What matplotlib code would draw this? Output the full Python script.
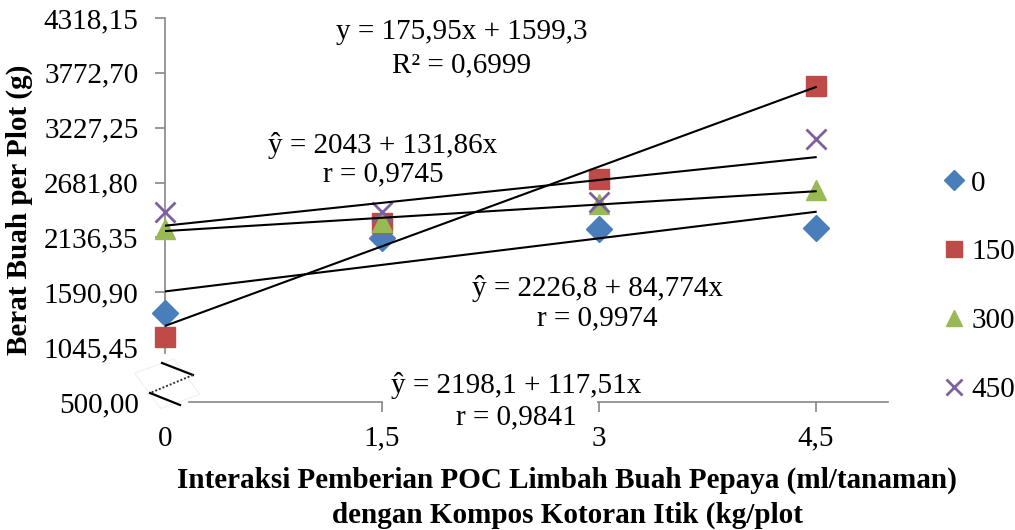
import numpy as np
import matplotlib
matplotlib.use("Agg")
from matplotlib import pyplot as plt
from matplotlib.patches import Polygon, Rectangle
from matplotlib.lines import Line2D

plt.rcParams["font.family"] = ["Liberation Serif", "DejaVu Serif"]

dosis = [0, 1.5, 3, 4.5]
poc_0 = [1384, 2129, 2218, 2228]
poc_150 = [1145, 2278, 2714, 3638]
poc_300 = [2225, 2290, 2470, 2605]
poc_450 = [2387, 2390, 2486, 3112]

series_labels = ["0", "150", "300", "450"]
series_colors = ["#4a7ebb", "#be4b48", "#98b954", "#7d60a0"]
series_markers = ["D", "s", "^", "x"]

# trendline of the 0 ml series, as printed on the chart
slope_0, intercept_0 = 175.95, 1599.3
r2_0 = 0.6999

y_ticks = [500.00, 1045.45, 1590.90, 2136.35, 2681.80, 3227.25, 3772.70, 4318.15]
x_ticks = [0, 1.5, 3, 4.5]

FS = 21


def fmt_id(v, dec):
    return f"{v:.{dec}f}".replace(".", ",")


fig = plt.figure(figsize=(10.15, 5.3), dpi=100)
ax = fig.add_axes([165 / 1015, 1 - 402 / 530, 723 / 1015, 384 / 530])

ax.set_xlim(0, 5)
ax.set_ylim(y_ticks[0], y_ticks[-1])

series = [poc_0, poc_150, poc_300, poc_450]
for vals, lab, col, mk in zip(series, series_labels, series_colors, series_markers):
    if mk == "x":
        ax.plot(dosis, vals, linestyle="none", marker=mk, color=col,
                markersize=15, markeredgewidth=2, label=lab, zorder=3, clip_on=False)
    elif mk == "D":
        ax.plot(dosis, vals, linestyle="none", marker=mk, color=col,
                markersize=13, label=lab, zorder=3, clip_on=False)
    else:
        ax.plot(dosis, vals, linestyle="none", marker=mk, color=col,
                markersize=15, label=lab, zorder=3, clip_on=False)

# linear trendlines
xs = np.array([dosis[0], dosis[-1]])
ax.plot(xs, intercept_0 + slope_0 * xs, color="black", lw=1.5, zorder=4)
for vals in series[1:]:
    b, a = np.polyfit(dosis, vals, 1)
    ax.plot(xs, a + b * xs, color="black", lw=1.5, zorder=4)

# axes styling
spine_col = "#868686"
for side in ["top", "right"]:
    ax.spines[side].set_visible(False)
ax.spines["left"].set_color(spine_col)
ax.spines["bottom"].set_color(spine_col)
ax.spines["left"].set_linewidth(1.2)
ax.spines["bottom"].set_linewidth(1.2)
ax.spines["left"].set_bounds(987, y_ticks[-1])
ax.spines["bottom"].set_bounds(0.166, 5)

ax.set_yticks(y_ticks)
ax.set_yticklabels([fmt_id(v, 2) for v in y_ticks])
ax.set_xticks(x_ticks)
ax.set_xticklabels([fmt_id(v, 1) if v % 1 else str(int(v)) for v in x_ticks])
ax.tick_params(axis="both", colors=spine_col, labelcolor="black",
               labelsize=FS, length=7, width=1.2)
ax.tick_params(axis="y", pad=12)
ax.tick_params(axis="x", pad=10)
ax.yaxis.get_major_ticks()[0].tick1line.set_visible(False)
ax.xaxis.get_major_ticks()[0].tick1line.set_visible(False)

# axis break mark on the y axis
tr = ax.transAxes
ax.add_patch(Polygon([(-0.042, 0.075), (0.012, 0.112), (0.048, 0.02), (-0.006, -0.017)],
                     closed=True, transform=tr, facecolor="white",
                     edgecolor="#f0f0f0", lw=0.8, clip_on=False, zorder=5))
ax.add_line(Line2D([-0.0041, 0.0387], [0.1016, 0.0703], transform=tr,
                   color="black", lw=1.6, clip_on=False, zorder=6))
ax.add_line(Line2D([0.0387, -0.0207], [0.0703, 0.0234], transform=tr,
                   color="#333333", lw=1.4, ls=(0, (1, 1)), clip_on=False, zorder=6))
ax.add_line(Line2D([-0.0207, 0.0207], [0.0234, -0.0078], transform=tr,
                   color="black", lw=1.6, clip_on=False, zorder=6))

# white backing behind the lowest equation label
ax.add_patch(Rectangle((1.51, -0.02), 1.475, 0.04, transform=ax.get_xaxis_transform(),
                       facecolor="white", edgecolor="none", clip_on=False, zorder=4))

# equation labels
eq_kw = dict(ha="center", va="center", fontsize=FS, zorder=7)
ax.text(2.054, 4176, f"y = {fmt_id(slope_0, 2)}x + {fmt_id(intercept_0, 1)}", **eq_kw)
ax.text(2.054, 3848, f"R² = {fmt_id(r2_0, 4)}", **eq_kw)
ax.text(1.508, 3053, "ŷ = 2043 + 131,86x", **eq_kw)
ax.text(1.508, 2765, "r = 0,9745", **eq_kw)
ax.text(2.988, 1633, "ŷ = 2226,8 + 84,774x", **eq_kw)
ax.text(2.988, 1335, "r = 0,9974", **eq_kw)
ax.text(2.427, 669, "ŷ = 2198,1 + 117,51x", **eq_kw)
ax.text(2.427, 351, "r = 0,9841", **eq_kw)

ax.set_ylabel("Berat Buah per Plot (g)", fontsize=FS, fontweight="bold")
ax.yaxis.set_label_coords(-0.183, 0.5)
fig.text(567 / 1015, 1 - 480 / 530, "Interaksi Pemberian POC Limbah Buah Pepaya (ml/tanaman)",
         ha="center", va="center", fontsize=FS, fontweight="bold")
fig.text(567 / 1015, 1 - 515 / 530, "dengan Kompos Kotoran Itik (kg/plot",
         ha="center", va="center", fontsize=FS, fontweight="bold")

leg = ax.legend(loc="center left", bbox_to_anchor=(939 / 1015, 1 - 286.5 / 530),
                bbox_transform=fig.transFigure, frameon=False, fontsize=FS,
                handlelength=1.0, handletextpad=0.1, labelspacing=1.45,
                borderpad=0, borderaxespad=0, markerscale=0.8)

fig.savefig("out.png", dpi=100)
